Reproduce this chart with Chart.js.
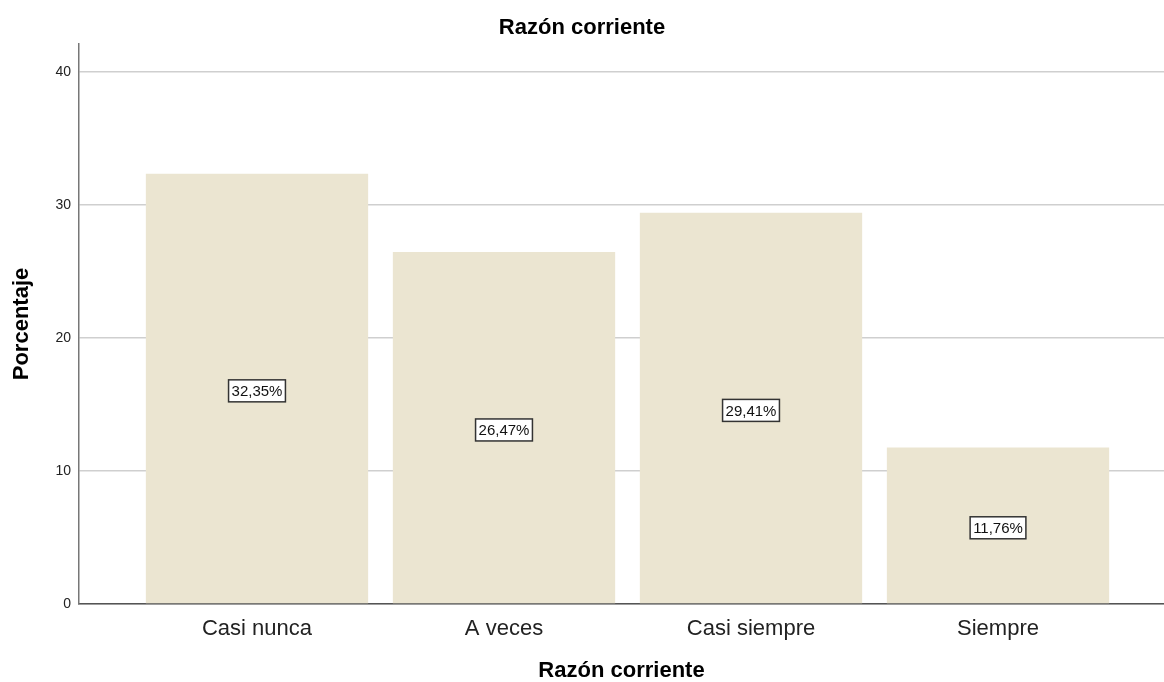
<!DOCTYPE html>
<html>
<head>
<meta charset="utf-8">
<script src="https://cdn.jsdelivr.net/npm/chart.js@4/dist/chart.umd.min.js"></script>
<style>
  html, body { margin: 0; padding: 0; background: #fff; }
  #wrap { width: 1164px; height: 682px; }
</style>
</head>
<body>
<div id="wrap"><canvas id="chart"></canvas></div>
<script>
// ---- data ----
const categories = ["Casi nunca", "A veces", "Casi siempre", "Siempre"];
const percentages = [32.35, 26.47, 29.41, 11.76];
const percentLabels = ["32,35%", "26,47%", "29,41%", "11,76%"];
const yTicks = [0, 10, 20, 30, 40];

const FONT = "Arial, 'Liberation Sans', sans-serif";
const barColor = "#ebe5d1";

// value boxes drawn in the middle of each bar
const boxLabels = {
  id: "boxLabels",
  afterDatasetsDraw(chart) {
    const ctx = chart.ctx;
    const meta = chart.getDatasetMeta(0);
    const yScale = chart.scales.y;
    ctx.save();
    ctx.font = "15px " + FONT;
    ctx.textAlign = "center";
    ctx.textBaseline = "middle";
    meta.data.forEach((bar, i) => {
      const txt = percentLabels[i];
      const cx = bar.x;
      const cy = yScale.getPixelForValue(percentages[i] / 2) + 2;
      const w = ctx.measureText(txt).width + 6;
      const h = 22;
      ctx.fillStyle = "#ffffff";
      ctx.fillRect(cx - w / 2, cy - h / 2, w, h);
      ctx.strokeStyle = "#333333";
      ctx.lineWidth = 1.5;
      ctx.strokeRect(cx - w / 2, cy - h / 2, w, h);
      ctx.fillStyle = "#111111";
      ctx.fillText(txt, cx, cy + 1);
    });
    ctx.restore();
  }
};

const points = categories.map((c, i) => ({ x: i, y: percentages[i] }));

new Chart(document.getElementById("chart"), {
  type: "bar",
  data: {
    datasets: [{
      data: points,
      backgroundColor: barColor,
      borderWidth: 0,
      categoryPercentage: 1,
      barPercentage: 0.9
    }]
  },
  options: {
    responsive: true,
    maintainAspectRatio: false,
    animation: false,
    layout: { padding: { left: 0, right: 0, top: 0, bottom: 0 } },
    plugins: {
      legend: { display: false },
      tooltip: { enabled: false },
      title: {
        display: true,
        text: "Razón corriente",
        color: "#000",
        font: { family: FONT, size: 22, weight: "bold", lineHeight: 1.0 },
        padding: { top: 17, bottom: 5 }
      }
    },
    scales: {
      x: {
        type: "linear",
        offset: false,
        min: -0.7206,
        max: 3.672,
        afterBuildTicks: axis => { axis.ticks = categories.map((c, i) => ({ value: i })); },
        afterFit: scale => { scale.height = 78; },
        ticks: {
          callback: v => categories[v],
          color: "#222",
          font: { family: FONT, size: 22 },
          padding: 12,
          autoSkip: false,
          maxRotation: 0
        },
        grid: { display: false, drawTicks: false, offset: false },
        border: { display: true, color: "#555", width: 1.5 },
        title: {
          display: true,
          text: "Razón corriente",
          color: "#000",
          font: { family: FONT, size: 22, weight: "bold", lineHeight: 1.0 },
          padding: { top: 0, bottom: 0 }
        }
      },
      y: {
        min: 0,
        max: 42.1,
        afterBuildTicks: axis => { axis.ticks = yTicks.map(v => ({ value: v })); },
        afterFit: scale => { scale.width = 79; },
        ticks: {
          color: "#222",
          font: { family: FONT, size: 14 },
          padding: 8
        },
        grid: { color: "#cfcfcf", lineWidth: 1.5, drawTicks: false },
        border: { display: true, color: "#777", width: 1.5 },
        title: {
          display: true,
          text: "Porcentaje",
          color: "#000",
          font: { family: FONT, size: 22, weight: "bold" },
          padding: { top: 9, bottom: 0 }
        }
      }
    }
  },
  plugins: [boxLabels]
});
</script>
</body>
</html>
